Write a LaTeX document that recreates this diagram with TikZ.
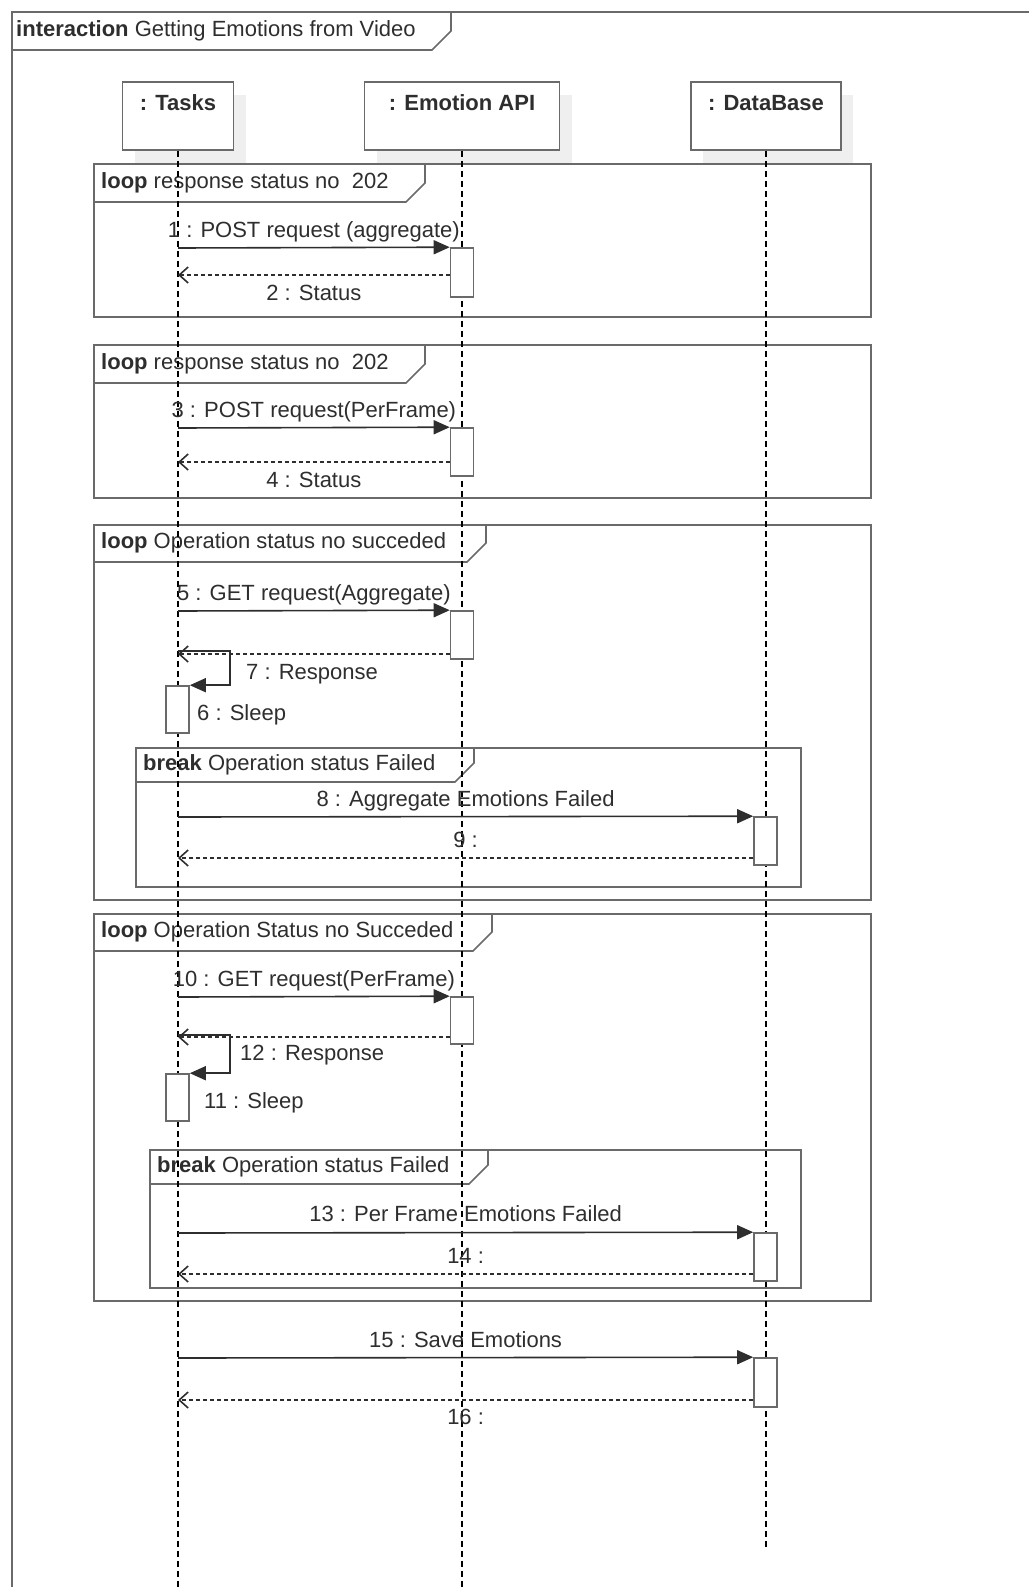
\documentclass[tikz,border=0pt]{standalone}
\usepackage{fontspec}
\setmainfont{Liberation Sans}
\usetikzlibrary{arrows.meta,shadows}
\definecolor{borde}{HTML}{6A6A6A}
\definecolor{texto}{HTML}{2E2E2E}
\definecolor{sombra}{HTML}{EFEFEF}

\begin{document}
\begin{tikzpicture}[x=1pt, y=-1pt,
    every node/.style={font=\fontsize{22}{26}\selectfont, text=texto},
    cabeza/.style={draw=borde, line width=1.6pt, fill=white, minimum height=68pt,
      align=center, inner sep=0pt,
      drop shadow={shadow xshift=12pt, shadow yshift=-13pt, fill=sombra, opacity=1}},
    vida/.style={line width=1.2pt, dash pattern=on 6pt off 4pt},
    activ/.style={draw=borde, line width=1.6pt, fill=white, minimum width=23pt, inner sep=0pt},
    marco/.style={draw=borde, line width=1.6pt},
    llamada/.style={draw=texto, line width=1.6pt, -{Triangle[length=16pt,width=14pt]}},
    retorno/.style={draw=texto, line width=1.6pt, dash pattern=on 4pt off 3pt,
      -{Straight Barb[length=9pt,width=16pt]}},
    etiq/.style={inner sep=0pt},
    sobre/.style={etiq, anchor=base, yshift=10pt},
    bajo/.style={etiq, anchor=base, yshift=-25pt}]
    \useasboundingbox (0,0) rectangle (1029,1587);

    % Marco de la interaccion
    \draw[marco] (1029,12) -- (12,12) -- (12,1587);
    \draw[marco] (12,50) -- (432,50) -- (451,31) -- (451,12);
    \node[etiq, anchor=west] (titulo) at (16,31) {\textbf{interaction} Getting Emotions from Video};

    % Fragmentos combinados
    \draw[marco] (94,164) rectangle (871,317);
    \draw[marco] (94,202) -- (406,202) -- (425,183) -- (425,164);
    \node[etiq, anchor=west] (loopA) at (101,183) {\textbf{loop} response status no\ \ 202};

    \draw[marco] (94,345) rectangle (871,498);
    \draw[marco] (94,383) -- (406,383) -- (425,364) -- (425,345);
    \node[etiq, anchor=west] (loopB) at (101,364) {\textbf{loop} response status no\ \ 202};

    \draw[marco] (94,525) rectangle (871,900);
    \draw[marco] (94,562) -- (467,562) -- (486,543) -- (486,525);
    \node[etiq, anchor=west] (loopC) at (101,543) {\textbf{loop} Operation status no succeded};

    \draw[marco] (136,748) rectangle (801,887);
    \draw[marco] (136,782) -- (455,782) -- (474,763) -- (474,748);
    \node[etiq, anchor=west] (breakC) at (143,765) {\textbf{break} Operation status Failed};

    \draw[marco] (94,914) rectangle (871,1301);
    \draw[marco] (94,951) -- (473,951) -- (492,932) -- (492,914);
    \node[etiq, anchor=west] (loopD) at (101,932) {\textbf{loop} Operation Status no Succeded};

    \draw[marco] (150,1150) rectangle (801,1288);
    \draw[marco] (150,1184) -- (469,1184) -- (488,1165) -- (488,1150);
    \node[etiq, anchor=west] (breakD) at (157,1167) {\textbf{break} Operation status Failed};

    % Lineas de vida
    \node[cabeza, minimum width=111pt] (T) at (178,116) {\textbf{: Tasks}\\\mbox{}};
    \node[cabeza, minimum width=195pt] (A) at (462,116) {\textbf{: Emotion API}\\\mbox{}};
    \node[cabeza, minimum width=150pt] (D) at (766,116) {\textbf{: DataBase}\\\mbox{}};
    \coordinate (Tfin) at (178,1587);
    \coordinate (Afin) at (462,1587);
    \coordinate (Dfin) at (766,1550);
    \draw[vida] (T.south) -- (Tfin);
    \draw[vida] (A.south) -- (Afin);
    \draw[vida] (D.south) -- (Dfin);

    % Barras de activacion
    \node[activ, minimum height=49pt] (act1) at (462,272.5) {};
    \node[activ, minimum height=48pt] (act3) at (462,452) {};
    \node[activ, minimum height=48pt] (act5) at (462,635) {};
    \node[activ, minimum height=47pt] (act6) at (177.5,709.5) {};
    \node[activ, minimum height=48pt] (act8) at (765.5,841) {};
    \node[activ, minimum height=47pt] (act10) at (462,1020.5) {};
    \node[activ, minimum height=47pt] (act11) at (177.5,1097.5) {};
    \node[activ, minimum height=48pt] (act13) at (765.5,1257) {};
    \node[activ, minimum height=49pt] (act15) at (765.5,1382.5) {};

    % Puntos sobre la linea de Tasks
    \coordinate (t1) at (178,248);
    \coordinate (t2) at (178,275);
    \coordinate (t3) at (178,428);
    \coordinate (t4) at (178,462);
    \coordinate (t5) at (178,611);
    \coordinate (t6) at (178,651);
    \coordinate (t7) at (178,654);
    \coordinate (t8) at (178,817);
    \coordinate (t9) at (178,858);
    \coordinate (t10) at (178,997);
    \coordinate (t11) at (178,1035);
    \coordinate (t12) at (178,1037);
    \coordinate (t13) at (178,1233);
    \coordinate (t14) at (178,1274);
    \coordinate (t15) at (178,1358);
    \coordinate (t16) at (178,1400);

    % Mensajes
    \draw[llamada] (t1) -- node[sobre] {1 : POST request (aggregate)} (act1.north west);
    \draw[retorno] (act1.west |- t2) -- node[bajo] {2 : Status} (t2);

    \draw[llamada] (t3) -- node[sobre] {3 : POST request(PerFrame)} (act3.north west);
    \draw[retorno] (act3.west |- t4) -- node[bajo] {4 : Status} (t4);

    \draw[llamada] (t5) -- node[sobre] {5 : GET request(Aggregate)} (act5.north west);
    \draw[llamada] (t6) -- ++(52,0) |- (act6.north east);
    \draw[retorno] (act5.west |- t7) -- (t7);
    \node[etiq, anchor=west] (l7) at (246,674) {7 : Response};
    \node[etiq, anchor=west] (l6) at (197,715) {6 : Sleep};

    \draw[llamada] (t8) -- node[sobre] {8 : Aggregate Emotions Failed} (act8.north west);
    \draw[retorno] (act8.west |- t9) -- node[sobre, yshift=1pt] {9 :} (t9);

    \draw[llamada] (t10) -- node[sobre] {10 : GET request(PerFrame)} (act10.north west);
    \draw[llamada] (t11) -- ++(52,0) |- (act11.north east);
    \draw[retorno] (act10.west |- t12) -- (t12);
    \node[etiq, anchor=west] (l12) at (240,1055) {12 : Response};
    \node[etiq, anchor=west] (l11) at (204,1103) {11 : Sleep};

    \draw[llamada] (t13) -- node[sobre, yshift=1pt] {13 : Per Frame Emotions Failed} (act13.north west);
    \draw[retorno] (act13.west |- t14) -- node[sobre, yshift=1pt] {14 :} (t14);

    \draw[llamada] (t15) -- node[sobre] {15 : Save Emotions} (act15.north west);
    \draw[retorno] (act15.west |- t16) -- node[bajo, yshift=1pt] {16 :} (t16);
\end{tikzpicture}
\end{document}
